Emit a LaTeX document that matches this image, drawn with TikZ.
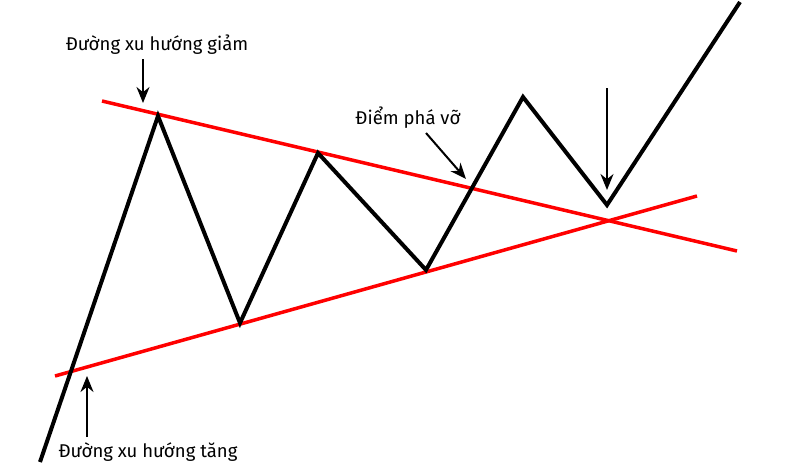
\documentclass[tikz,border=0pt]{standalone}
\usepackage{fontspec}
\setmainfont{Fira Sans}
\usetikzlibrary{arrows.meta}
\begin{document}
\begin{tikzpicture}[x=1pt, y=-1pt, >={Stealth[length=16pt, width=13pt]}, every node/.style={font=\fontsize{18.5}{22}\selectfont}]
        \useasboundingbox (0,0) rectangle (800,474);
        % trend lines
        \coordinate (dA) at (102,101); \coordinate (dB) at (737,251);
        \coordinate (uA) at (55,376);  \coordinate (uB) at (697,196);
        \draw[red, line width=3.5pt] (dA) -- (dB);
        \draw[red, line width=3.5pt] (uA) -- (uB);
        % price
        \draw[line width=4pt, line join=miter] (40,462) -- (158,116) -- (240,323) -- (318,153) -- (426,270) -- (523,97) -- (607,205) -- (740,2);
        % labels
        \node (down) at (157,45) {Đường xu hướng giảm};
        \node (brk) at (408,118) {Điểm phá vỡ};
        \node (up) at (148,452) {Đường xu hướng tăng};
        \coordinate (downtip) at (143,103);
        \coordinate (brktip) at (466,179);
        \coordinate (uptip) at (87,376);
        \coordinate (rettop) at (607,88);
        \coordinate (rettip) at (607,190);
        \draw[->, line width=2pt] (143,59) -- (downtip);
        \draw[->, line width=2pt] (426,133) -- (brktip);
        \draw[->, line width=2pt] (87,437) -- (uptip);
        \draw[->, line width=2pt] (rettop) -- (rettip);
    \end{tikzpicture}
\end{document}
